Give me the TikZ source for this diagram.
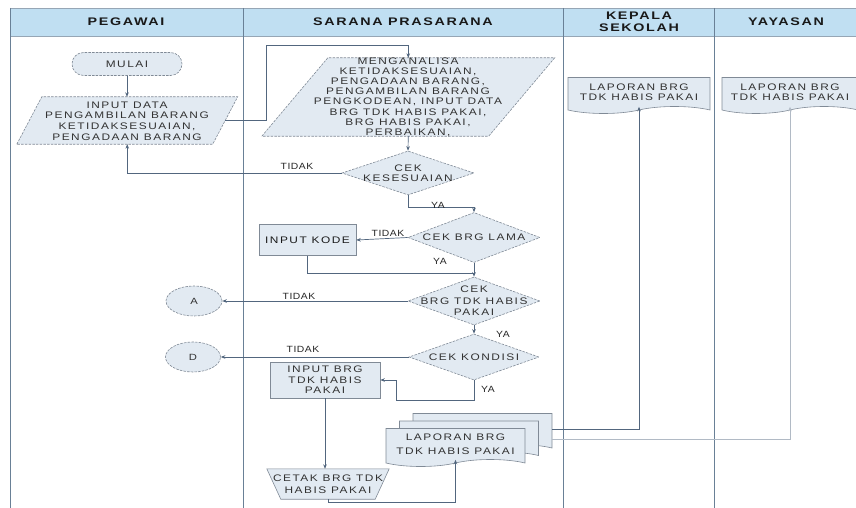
\documentclass[tikz,border=0pt]{standalone}
\usepackage{fontspec}
\setmainfont{Liberation Sans}
\newfontfamily\shapefont[FakeStretch=1.25,LetterSpace=16]{Liberation Sans}
\newfontfamily\tagfont[FakeStretch=1.15,LetterSpace=6]{Liberation Sans}
\newfontfamily\headfont[FakeStretch=1.3,LetterSpace=15]{Liberation Sans}
\usetikzlibrary{shapes.geometric,shapes.misc,shapes.symbols,arrows.meta,calc}

\definecolor{hdrblue}{RGB}{192,223,242}
\definecolor{laneline}{RGB}{105,128,150}
\definecolor{shapefill}{RGB}{226,234,242}
\definecolor{shapeedge}{RGB}{128,138,150}
\definecolor{connline}{RGB}{82,102,126}
\definecolor{txt}{RGB}{50,50,50}

\tikzset{
  base/.style={draw=shapeedge, fill=shapefill, line width=0.6pt, inner sep=0pt},
  dashedge/.style={dash pattern=on 2.5pt off 1.2pt},
  outline/.style={base, line join=miter},
  anchorbox/.style={rectangle, inner sep=0pt},
  stepbox/.style={base, rectangle, font=\shapefont\fontsize{9.5}{10.5}\selectfont, text=txt, align=center},
  termbox/.style={base, dashedge, rounded rectangle, font=\shapefont\fontsize{9.5}{10.5}\selectfont, text=txt},
  refcircle/.style={base, dashedge, ellipse, font=\shapefont\fontsize{9}{10}\selectfont, text=txt},
  decision/.style={base, dashedge, diamond, inner sep=1pt},
  docbox/.style={base, tape, tape bend top=none, tape bend bottom=in and out,
    tape bend height=7pt, font=\shapefont\fontsize{9.5}{10.5}\selectfont, text=txt, align=center},
  inner/.style={font=\shapefont\fontsize{9.5}{10}\selectfont, text=txt, align=center, inner sep=0pt},
  tag/.style={font=\tagfont\fontsize{9}{10}\selectfont, text=black!85, inner sep=0pt},
  hdr/.style={font=\headfont\bfseries\fontsize{11}{12}\selectfont, text=black!90, align=center, inner sep=0pt},
  conn/.style={draw=connline, line width=0.7pt, -{Stealth[length=4.5pt,width=3.6pt]}},
  plain/.style={draw=connline, line width=0.7pt},
  laneedge/.style={draw=laneline, line width=1pt}
}

\begin{document}
\begin{tikzpicture}[x=1pt,y=-1pt]
\useasboundingbox (0,0) rectangle (856,508);

% swimlane frame and headers
\fill[hdrblue] (10,8) rectangle (856,36);
\draw[draw=laneline!70, line width=0.6pt] (10,8) -- (856,8);
\draw[draw=laneline!70, line width=0.6pt] (10,36) -- (856,36);
\foreach \lx in {10,243,563,714} \draw[laneedge] (\lx,8) -- (\lx,508);

\node[hdr] (hpegawai) at (126,22) {PEGAWAI};
\node[hdr] (hsarana) at (403,22) {SARANA PRASARANA};
\node[hdr] (hkepala) at (639,21.5) {KEPALA\\SEKOLAH};
\node[hdr] (hyayasan) at (786,22) {YAYASAN};

% PEGAWAI lane
\node[termbox, minimum width=110pt, minimum height=23pt] (mulai) at (127,64) {MULAI};

% input parallelogram: the named box is its mid-height body, the slant is 12.5 each way
\node[anchorbox, minimum width=195.5pt, minimum height=47pt] (inputdata) at (127.25,120.5) {};
\draw[outline, dashedge] ($(inputdata.south west)+(-12.5,0)$) -- ($(inputdata.north west)+(12.5,0)$)
  -- ($(inputdata.north east)+(12.5,0)$) -- ($(inputdata.south east)+(-12.5,0)$) -- cycle;
\node[inner, font=\shapefont\fontsize{9.5}{10.6}\selectfont] (inputdata-t) at (127,121)
  {INPUT DATA\\PENGAMBILAN BARANG\\KETIDAKSESUAIAN,\\PENGADAAN BARANG};

\node[refcircle, minimum width=56pt, minimum height=30pt] (circA) at (194,301) {A};
\node[refcircle, minimum width=55pt, minimum height=30pt] (circD) at (193,357) {D};

% SARANA PRASARANA lane
\node[anchorbox, minimum width=226.5pt, minimum height=78pt] (menganalisa) at (408.25,97) {};
\draw[outline, dashedge] ($(menganalisa.south west)+(-33,0)$) -- ($(menganalisa.north west)+(33,0)$)
  -- ($(menganalisa.north east)+(33,0)$) -- ($(menganalisa.south east)+(-33,0)$) -- cycle;
\node[inner, font=\shapefont\fontsize{9.5}{10.2}\selectfont] (menganalisa-t) at (408,97)
  {MENGANALISA\\KETIDAKSESUAIAN,\\PENGADAAN BARANG,\\PENGAMBILAN BARANG\\PENGKODEAN, INPUT DATA\\BRG TDK HABIS PAKAI,\\BRG HABIS PAKAI,\\PERBAIKAN,};

\node[decision, minimum width=132pt, minimum height=44pt] (kesesuaian) at (408,173) {};
\node[inner] (kesesuaian-t) at (kesesuaian) {CEK\\KESESUAIAN};

\node[decision, minimum width=132pt, minimum height=50pt] (brglama) at (474,237.5) {};
\node[inner] (brglama-t) at (brglama) {CEK BRG LAMA};

\node[stepbox, minimum width=97pt, minimum height=31pt, text=black!90] (inputkode) at (307.5,240) {INPUT KODE};

\node[decision, minimum width=132pt, minimum height=48pt] (tdkhabis) at (474,301) {};
\node[inner, font=\shapefont\fontsize{9.5}{11.5}\selectfont] (tdkhabis-t) at (tdkhabis) {CEK\\BRG TDK HABIS\\PAKAI};

\node[decision, minimum width=130pt, minimum height=46pt] (kondisi) at (474,357) {};
\node[inner] (kondisi-t) at (kondisi) {CEK KONDISI};

\node[stepbox, minimum width=110pt, minimum height=36pt] (inputbrg) at (325,380) {INPUT BRG\\TDK HABIS\\PAKAI};

% manual operation: wide top, bottom inset by 14 on each side
\node[anchorbox, minimum width=122pt, minimum height=30pt] (cetak) at (328,484) {};
\draw[outline] (cetak.north west) -- (cetak.north east)
  -- ($(cetak.south east)+(-14,0)$) -- ($(cetak.south west)+(14,0)$) -- cycle;
\node[inner, font=\shapefont\fontsize{9.5}{11.5}\selectfont] (cetak-t) at (cetak) {CETAK BRG TDK\\HABIS PAKAI};

% stacked report documents
\node[docbox, minimum width=139pt, minimum height=38pt] (lap3) at (482.5,429) {};
\node[docbox, minimum width=139pt, minimum height=38pt] (lap2) at (469,436.5) {};
\node[docbox, minimum width=139pt, minimum height=38pt, font=\shapefont\fontsize{9.5}{14}\selectfont] (lap1) at (455.5,444) {LAPORAN BRG\\TDK HABIS PAKAI};

% KEPALA SEKOLAH and YAYASAN lanes
\node[docbox, minimum width=142pt, minimum height=36pt] (kepala) at (639,92) {LAPORAN BRG\\TDK HABIS PAKAI};
\node[docbox, minimum width=136pt, minimum height=36pt] (yayasan) at (790,92) {LAPORAN BRG\\TDK HABIS PAKAI};

% connectors
\coordinate (bend1) at (266,45);
\coordinate (join1) at (474,273);
\coordinate (yaturn) at (396,400);

\draw[conn] (mulai.south) -- (mulai.south |- inputdata.north);
\draw[conn] (inputdata.east) -| (bend1) -| (menganalisa.north);
\draw[conn] (menganalisa.south) -- (kesesuaian.north);
\draw[conn] (kesesuaian.west) -| (inputdata.south);
\draw[conn] (kesesuaian.south) -- ++(0,12) -| (brglama.north);
\draw[conn] (brglama.west) -- (inputkode.east);
\draw[conn] (brglama.south) -- (tdkhabis.north);
\draw[plain] (inputkode.south) |- (join1);
\draw[conn] (tdkhabis.west) -- (circA.east);
\draw[conn] (tdkhabis.south) -- (kondisi.north);
\draw[conn] (kondisi.west) -- (circD.east);
\draw[conn] (kondisi.south) |- (yaturn) |- (inputbrg.east);
\draw[conn] (inputbrg.south) -- (inputbrg.south |- cetak.north);
\draw[conn] (cetak.south) -- ++(0,3) -| (lap1.south);
\draw[conn] (lap3.east) -| (kepala.south);
\draw[conn, draw=connline!45] ([yshift=-10pt]lap3.east) -| (yayasan.south);

% branch labels
\node[tag] (t1) at (297,166) {TIDAK};
\node[tag] (y1) at (438,205) {YA};
\node[tag] (t2) at (388,233) {TIDAK};
\node[tag] (y2) at (440,261) {YA};
\node[tag] (t3) at (299,296) {TIDAK};
\node[tag] (y3) at (503,334) {YA};
\node[tag] (t4) at (303,349) {TIDAK};
\node[tag] (y4) at (488,389) {YA};
\end{tikzpicture}
\end{document}
